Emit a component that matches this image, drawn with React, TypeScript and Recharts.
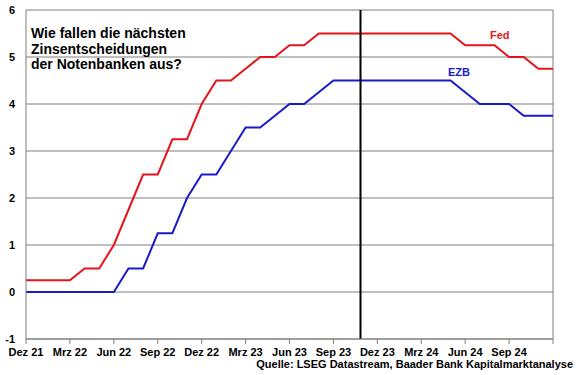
import { CartesianGrid, Line, LineChart, ReferenceLine, XAxis, YAxis } from "recharts";

// Month index 0 = Dez 21 ... 36 = Dez 24
const fedRate = [
  0.25, 0.25, 0.25, 0.25, 0.5, 0.5, 1.0, 1.75, 2.5, 2.5, 3.25, 3.25, 4.0,
  4.5, 4.5, 4.75, 5.0, 5.0, 5.25, 5.25, 5.5, 5.5, 5.5, 5.5, 5.5,
  5.5, 5.5, 5.5, 5.5, 5.5, 5.25, 5.25, 5.25, 5.0, 5.0, 4.75, 4.75,
];

const ezbRate = [
  0, 0, 0, 0, 0, 0, 0, 0.5, 0.5, 1.25, 1.25, 2.0, 2.5,
  2.5, 3.0, 3.5, 3.5, 3.75, 4.0, 4.0, 4.25, 4.5, 4.5, 4.5, 4.5,
  4.5, 4.5, 4.5, 4.5, 4.5, 4.25, 4.0, 4.0, 4.0, 3.75, 3.75, 3.75,
];

const tickMonths = [0, 3, 6, 9, 12, 15, 18, 21, 24, 27, 30, 33, 36];
const tickLabels = [
  "Dez 21", "Mrz 22", "Jun 22", "Sep 22", "Dez 22", "Mrz 23", "Jun 23",
  "Sep 23", "Dez 23", "Mrz 24", "Jun 24", "Sep 24", "",
];
const yTicks = [-1, 0, 1, 2, 3, 4, 5, 6];

// "today" marker, late October 2023
const todayMonth = 22.85;

const titleLines = ["Wie fallen die nächsten", "Zinsentscheidungen", "der Notenbanken aus?"];
const source = "Quelle: LSEG Datastream, Baader Bank Kapitalmarktanalyse";

const RED = "#e3151b";
const BLUE = "#1a1ac8";
const GRID = "#7f7f7f";

const rows = fedRate.map((fed, m) => ({ m, fed, ezb: ezbRate[m] }));

export default function App() {
  return (
    <div
      style={{
        position: "absolute",
        left: 0,
        top: 0,
        width: 580,
        height: 375,
        background: "#fff",
        fontFamily: "'Liberation Sans', Arial, sans-serif",
      }}
    >
      <LineChart width={580} height={375} data={rows} margin={{ top: 10, right: 27, bottom: 0, left: 0 }}>
        <CartesianGrid vertical={false} stroke={GRID} strokeWidth={1} />
        <XAxis
          dataKey="m"
          type="number"
          domain={[0, 36]}
          ticks={tickMonths}
          interval={0}
          tickFormatter={(v: number) => tickLabels[tickMonths.indexOf(v)] ?? ""}
          height={36}
          stroke={GRID}
          tickSize={5}
          tickMargin={4}
          tick={{ fill: "#000", fontSize: 11, fontWeight: 700 }}
        />
        <YAxis
          domain={[-1, 6]}
          ticks={yTicks}
          interval={0}
          width={26}
          tickLine={false}
          stroke={GRID}
          tickMargin={5}
          tick={{ fill: "#000", fontSize: 11, fontWeight: 700 }}
        />
        <ReferenceLine x={36} stroke={GRID} strokeWidth={1} />
        <Line type="linear" dataKey="fed" stroke={RED} strokeWidth={2} dot={false} isAnimationActive={false} />
        <Line type="linear" dataKey="ezb" stroke={BLUE} strokeWidth={2} dot={false} isAnimationActive={false} />
        <ReferenceLine x={todayMonth} stroke="#000" strokeWidth={2} />
      </LineChart>
      <svg
        width={580}
        height={375}
        style={{ position: "absolute", left: 0, top: 0, pointerEvents: "none" }}
      >
        {titleLines.map((t, i) => (
          <text key={t} x={31} y={38 + i * 15.5} fontSize={14} fontWeight={700} fill="#000">
            {t}
          </text>
        ))}
        <text x={490} y={39} fontSize={11} fontWeight={700} fill={RED}>
          Fed
        </text>
        <text x={448} y={76} fontSize={11} fontWeight={700} fill={BLUE}>
          EZB
        </text>
        <text x={573} y={368} textAnchor="end" fontSize={11} fontWeight={700} fill="#000">
          {source}
        </text>
      </svg>
    </div>
  );
}
